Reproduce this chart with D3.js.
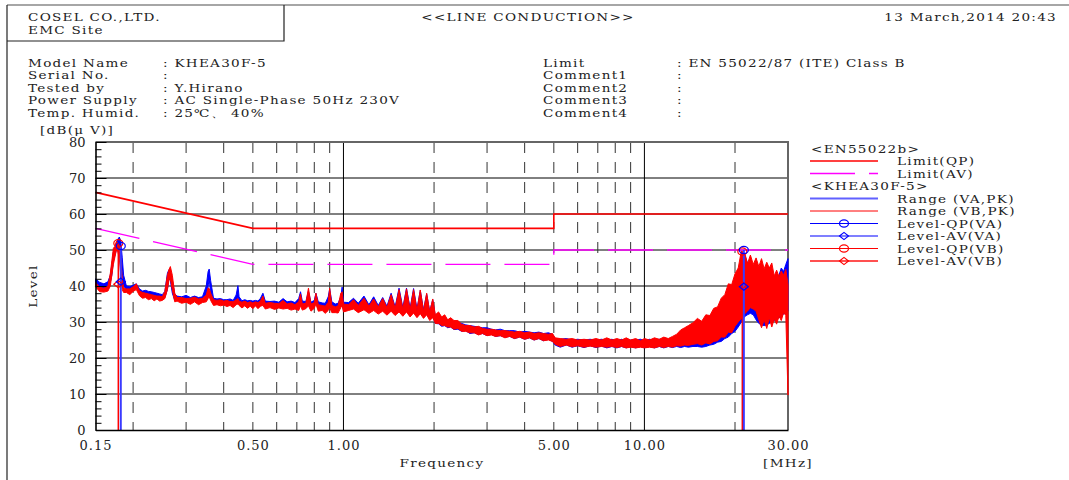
<!DOCTYPE html>
<html>
<head>
<meta charset="utf-8">
<script src="https://cdn.jsdelivr.net/npm/d3@7"></script>
<style>
  body { margin: 0; background: #fff; }
  svg text { font-family: "DejaVu Serif", serif; fill: #222; }
  .row { font-size: 10.6px; letter-spacing: 1px; }
  .tick text { font-size: 13px; letter-spacing: 1px; }
</style>
</head>
<body>
<div id="chart"></div>
<script>
// ---- header texts ----
const infoLeft = [
  ["Model Name", ": KHEA30F-5"],
  ["Serial No.", ":"],
  ["Tested by", ": Y.Hirano"],
  ["Power Supply", ": AC Single-Phase 50Hz 230V"],
  ["Temp. Humid.", ": 25\u2103\u3001 40%"]
];
const infoRight = [
  ["Limit", ": EN 55022/87 (ITE) Class B"],
  ["Comment1", ":"],
  ["Comment2", ":"],
  ["Comment3", ":"],
  ["Comment4", ":"]
];

// ---- axes ----
const xTicks = [0.15, 0.5, 1, 5, 10, 30];
const xGridDashed = [0.2, 0.3, 0.4, 0.5, 0.6, 0.7, 0.8, 0.9, 2, 3, 4, 5, 6, 7, 8, 9, 20];
const xGridSolid = [1, 10];
const yGrid = [10, 20, 30, 40, 50, 60, 70];

// ---- limits (EN55022 class B) ----
const limitQP = [[0.15, 66], [0.5, 56], [5, 56], [5, 60], [30, 60]];
const limitAV = [[0.15, 56], [0.5, 46], [5, 46], [5, 50], [30, 50]];

// ---- peak scan, min/max per frequency bin (MHz, dBuV) ----
const freqMHz = [
  0.150,0.155,0.160,0.165,0.168,0.170,0.172,0.174,0.176,0.178,
  0.180,0.182,0.184,0.186,0.190,0.195,0.200,0.205,0.210,0.215,
  0.220,0.225,0.230,0.235,0.240,0.245,0.250,0.255,0.260,0.263,
  0.266,0.270,0.275,0.280,0.290,0.300,0.310,0.320,0.330,0.340,
  0.350,0.355,0.358,0.362,0.370,0.380,0.390,0.400,0.410,0.420,
  0.430,0.440,0.446,0.450,0.460,0.470,0.480,0.490,0.500,0.510,
  0.520,0.530,0.540,0.550,0.570,0.590,0.610,0.630,0.650,0.670,
  0.690,0.710,0.720,0.730,0.750,0.765,0.780,0.800,0.810,0.825,
  0.850,0.870,0.890,0.900,0.915,0.940,0.960,0.980,0.990,1.000,
  1.040,1.080,1.120,1.170,1.215,1.260,1.305,1.350,1.395,1.440,
  1.485,1.530,1.575,1.620,1.665,1.710,1.755,1.800,1.845,1.890,
  1.935,1.980,2.020,2.070,2.120,2.170,2.220,2.270,2.330,2.400,
  2.470,2.550,2.630,2.720,2.810,2.900,3.000,3.100,3.200,3.320,
  3.440,3.570,3.700,3.850,4.000,4.150,4.300,4.460,4.620,4.800,
  4.950,5.050,5.250,5.500,5.750,6.000,6.300,6.600,6.900,7.200,
  7.500,7.800,8.100,8.400,8.700,9.000,9.350,9.700,10.00,10.40,
  10.80,11.20,11.60,12.00,12.40,12.80,13.20,13.60,14.00,14.50,
  15.00,15.50,16.00,16.50,17.00,17.50,18.00,18.50,19.00,19.50,
  20.00,20.50,21.00,21.30,21.60,22.00,22.50,23.00,23.50,24.00,
  24.50,25.00,25.50,26.00,26.50,27.00,27.50,28.00,28.50,29.00,
  29.50,30.00
];
const vaLo = [
  40.5,39.5,39.4,39.8,41.0,43.0,47.0,48.5,50.0,51.5,
  52.0,49.0,44.0,40.0,39.0,38.8,39.0,39.5,38.0,37.6,
  37.2,37.6,36.9,37.0,36.5,36.8,36.3,36.8,39.0,42.0,
  41.5,38.0,36.0,36.2,35.6,36.0,35.4,36.0,35.2,35.8,
  36.5,40.0,42.0,38.0,35.0,35.2,34.9,35.2,34.6,35.2,
  34.6,35.4,37.0,35.2,34.4,35.0,34.4,34.9,34.2,34.8,
  34.1,35.0,35.2,34.2,34.5,34.1,34.4,34.0,34.3,33.9,
  34.2,33.9,35.5,34.0,34.3,35.0,33.8,34.4,35.5,33.8,
  34.0,33.4,34.5,36.0,33.8,33.6,33.4,34.5,35.0,33.4,
  33.8,34.0,33.2,34.0,33.0,33.8,32.8,33.5,32.4,33.4,
  32.2,33.0,32.0,33.0,31.8,32.8,31.6,32.6,31.4,32.4,
  30.8,31.5,29.6,29.5,28.8,29.0,28.4,28.6,27.9,28.0,
  27.4,27.6,26.8,27.0,26.6,26.8,26.2,26.6,26.0,26.2,
  25.8,26.0,25.4,25.8,25.2,25.6,25.0,25.4,24.8,25.2,
  24.6,23.6,23.0,23.6,23.0,23.4,22.9,23.4,22.9,23.3,
  22.8,23.2,22.8,23.2,22.8,23.2,22.8,23.2,22.8,23.2,
  22.8,23.2,22.8,23.2,22.9,23.2,22.9,23.2,23.0,23.2,
  23.2,23.0,23.2,23.6,23.8,24.4,24.6,25.4,25.8,26.8,
  27.4,28.6,30.0,31.0,31.6,32.0,32.4,32.0,30.6,29.6,
  29.2,29.0,29.2,29.6,30.0,30.4,30.8,31.2,31.6,32.2,
  32.6,33.0
];
const vaHi = [
  42.0,41.0,40.6,41.2,43.0,46.0,49.5,50.5,52.0,53.0,
  53.6,52.5,48.0,43.0,40.0,39.8,40.2,40.6,39.2,38.6,
  38.8,38.5,38.4,38.2,38.0,37.8,37.6,38.5,43.5,44.5,
  44.0,41.5,37.8,37.2,37.0,37.4,36.8,37.2,36.8,37.0,
  40.0,44.0,44.7,41.5,36.6,36.4,36.5,36.2,36.2,36.4,
  36.0,37.5,40.1,37.0,35.9,36.2,35.9,36.0,35.8,36.0,
  35.8,36.6,38.0,35.8,35.7,35.8,35.5,36.5,35.6,35.8,
  35.4,36.5,38.4,35.8,35.7,38.5,35.5,36.0,38.0,35.6,
  35.3,35.2,37.0,39.2,35.6,35.0,35.2,37.0,39.7,35.5,
  35.4,36.6,35.2,37.2,34.8,37.0,34.6,36.8,34.4,38.0,
  34.2,39.4,34.0,39.4,33.8,39.3,33.6,38.8,33.4,37.8,
  33.0,36.2,31.6,32.5,31.0,31.6,30.4,30.8,30.0,29.8,
  29.6,29.2,29.0,28.8,28.6,28.4,28.4,28.0,27.8,28.0,
  27.6,27.6,27.6,27.2,27.4,27.2,27.0,27.2,26.8,27.0,
  26.6,25.4,25.2,25.4,25.0,25.2,25.0,25.2,25.0,25.2,
  25.0,25.2,24.8,25.2,24.8,25.0,25.0,25.2,24.8,25.2,
  25.0,25.2,25.0,25.0,25.2,25.4,25.6,25.8,26.0,26.2,
  26.6,27.0,27.4,28.0,28.4,29.0,30.0,31.0,32.0,33.0,
  34.0,36.0,48.0,49.6,48.4,46.4,46.0,44.8,44.0,44.6,
  45.2,43.6,44.0,42.8,43.2,41.8,42.4,43.0,45.0,44.0,
  46.0,47.6
];
const vbLo = [
  39.8,38.4,38.3,38.6,40.0,43.0,46.0,48.0,50.0,49.5,
  47.5,43.0,39.0,38.2,38.2,37.6,38.5,39.0,37.3,36.6,
  36.8,36.2,36.5,35.9,36.4,35.8,36.0,36.5,39.0,41.5,
  42.0,39.0,35.6,35.8,35.2,35.5,34.9,35.6,34.8,35.4,
  35.6,36.5,37.0,36.0,34.6,34.8,34.5,34.7,34.3,34.6,
  34.0,34.8,35.0,34.6,33.9,34.5,33.8,34.4,33.7,34.5,
  33.7,34.4,34.6,33.6,34.0,33.5,33.9,33.6,33.8,33.3,
  33.6,33.2,34.5,33.3,33.7,34.5,33.0,33.8,35.0,33.0,
  33.2,32.4,33.2,34.0,32.6,32.6,32.5,34.0,34.5,32.8,
  33.2,33.6,32.6,33.4,32.4,33.2,32.2,33.0,31.9,33.0,
  31.8,32.8,31.6,32.8,31.4,32.5,31.2,32.3,31.0,32.0,
  30.4,31.2,29.6,29.6,29.0,29.0,28.6,28.6,28.0,28.2,
  27.4,27.4,27.0,27.0,26.4,26.8,26.2,26.4,26.0,26.2,
  25.6,26.0,25.4,25.8,25.2,25.6,25.0,25.4,24.8,25.0,
  24.6,23.8,23.2,23.6,23.1,23.4,23.0,23.3,23.0,23.2,
  23.0,23.2,22.9,23.2,22.8,23.0,22.8,23.0,22.8,23.0,
  22.8,23.2,22.9,23.2,23.0,23.4,23.3,23.6,23.5,23.8,
  24.0,23.6,24.2,23.9,24.6,24.8,25.8,25.8,27.2,27.0,
  28.8,30.0,31.0,31.8,32.4,33.0,34.0,33.6,33.0,30.6,
  28.4,30.6,28.2,31.2,28.6,30.8,29.4,31.6,30.4,32.6,
  31.8,9.7
];
const vbHi = [
  41.0,39.6,39.4,40.0,43.5,47.0,50.5,51.0,52.4,52.0,
  51.0,47.5,42.0,39.5,39.2,39.2,39.8,40.6,38.6,38.2,
  38.0,37.8,37.6,37.4,37.2,37.2,37.0,38.5,43.0,44.5,
  45.4,43.0,38.0,36.8,36.8,36.5,36.6,36.9,36.4,36.6,
  37.5,39.5,39.3,38.0,36.2,36.0,36.2,35.8,36.0,35.7,
  35.6,36.2,36.5,35.8,35.5,35.8,35.4,35.6,35.3,35.6,
  35.4,35.8,37.2,35.2,35.4,35.2,35.1,36.0,35.0,35.3,
  34.8,35.6,37.8,35.0,35.2,39.4,35.0,35.4,38.0,34.8,
  34.6,34.4,35.5,39.4,34.6,34.2,34.5,38.0,38.4,35.0,
  34.8,36.2,34.6,36.6,34.4,36.4,34.2,36.5,34.0,37.6,
  33.8,39.0,33.6,39.2,33.4,39.0,33.2,38.9,33.0,38.0,
  32.8,36.4,32.0,32.8,31.4,32.0,30.6,31.2,30.4,30.4,
  29.4,29.0,29.0,28.6,28.8,28.2,28.0,28.0,27.8,27.6,
  27.6,27.4,27.2,27.4,27.0,27.2,26.8,27.0,26.8,26.6,
  26.8,25.6,25.4,25.2,25.4,25.0,25.2,25.0,25.4,25.0,
  25.6,25.0,25.4,25.0,25.6,25.0,25.4,24.8,25.4,25.0,
  25.6,25.2,25.8,25.4,26.0,26.6,27.8,28.4,29.0,29.8,
  31.0,30.2,32.0,31.8,33.8,34.2,36.6,37.6,40.6,40.4,
  43.4,45.0,49.8,49.2,48.8,46.2,48.6,46.0,47.8,45.4,
  47.6,44.8,46.6,45.0,46.4,42.8,44.4,42.6,44.2,43.0,
  44.6,40.4
];

// ---- final measurement markers ----
const markVAFreq = [0.182, 21.4];
const markVAQP = [51.1, 50.0];
const markVAAV = [41.2, 39.8];
const markVBFreq = [0.1786, 21.15];
const markVBQP = [51.9, 49.6];
const markVBAV = [40.5, 40.2];

const BLUE = "#0000ff", RED = "#ff0000", MAG = "#ff00ff";

const svg = d3.select("#chart").append("svg")
  .attr("width", 1069).attr("height", 480);

const x = d3.scaleLog().domain([0.15, 30]).range([95.5, 788]);
const y = d3.scaleLinear().domain([0, 80]).range([430, 142]);

// wide serif text like the plotter font
function label(tx, ty, str, anchor) {
  return svg.append("text").attr("class", "row")
    .attr("transform", `translate(${tx},${ty}) scale(1.28,1)`)
    .attr("text-anchor", anchor || "start")
    .text(str);
}

// page frame and header box
svg.append("line").attr("x1", 7).attr("x2", 1069).attr("y1", 5).attr("y2", 5)
  .attr("stroke", "#888").attr("stroke-width", 1.5);
svg.append("line").attr("x1", 7).attr("x2", 7).attr("y1", 5).attr("y2", 480)
  .attr("stroke", "#222").attr("stroke-width", 1.2);
svg.append("path").attr("d", "M7,41H284V5").attr("fill", "none")
  .attr("stroke", "#222").attr("stroke-width", 1.2);

label(28, 21, "COSEL CO.,LTD.");
label(28, 34, "EMC Site");
label(528, 21, "<<LINE CONDUCTION>>", "middle");
label(1057, 21, "13 March,2014 20:43", "end");

infoLeft.forEach((d, i) => {
  label(28, 67 + i * 12.4, d[0]);
  label(163, 67 + i * 12.4, d[1]);
});
infoRight.forEach((d, i) => {
  label(543, 67 + i * 12.4, d[0]);
  label(677, 67 + i * 12.4, d[1]);
});

// grid
const grid = svg.append("g");
grid.selectAll(".hg").data(yGrid).enter().append("line")
  .attr("x1", x(0.15)).attr("x2", x(30))
  .attr("y1", d => y(d)).attr("y2", d => y(d))
  .attr("stroke", "#000").attr("stroke-width", 1);
grid.selectAll(".vd").data(xGridDashed).enter().append("line")
  .attr("x1", d => x(d)).attr("x2", d => x(d))
  .attr("y1", y(80)).attr("y2", y(0))
  .attr("stroke", "#333").attr("stroke-width", 1).attr("stroke-dasharray", "11,9");
grid.selectAll(".vs").data(xGridSolid).enter().append("line")
  .attr("x1", d => x(d)).attr("x2", d => x(d))
  .attr("y1", y(80)).attr("y2", y(0))
  .attr("stroke", "#000").attr("stroke-width", 1);
// top and right frame of plot
grid.append("path")
  .attr("d", `M${x(0.15)},${y(80)}H${x(30)}V${y(0)}`)
  .attr("fill", "none").attr("stroke", "#666").attr("stroke-width", 2);

// spectrum traces (min/max band per bin)
const bins = freqMHz.map((f, i) => ({ f, vaLo: vaLo[i], vaHi: vaHi[i], vbLo: vbLo[i], vbHi: vbHi[i] }));
const band = (lo, hi) => d3.area().x(d => x(d.f)).y0(d => y(d[lo])).y1(d => y(d[hi]));

svg.append("path").datum(bins).attr("d", band("vaLo", "vaHi"))
  .attr("fill", BLUE).attr("stroke", BLUE).attr("stroke-width", 1);
svg.append("path").datum(bins).attr("d", band("vbLo", "vbHi"))
  .attr("fill", RED).attr("stroke", RED).attr("stroke-width", 1);

// limit lines
const lim = d3.line().x(d => x(d[0])).y(d => y(d[1]));
svg.append("path").datum(limitQP).attr("d", lim)
  .attr("fill", "none").attr("stroke", RED).attr("stroke-width", 1.6);
svg.append("path").datum(limitAV).attr("d", lim)
  .attr("fill", "none").attr("stroke", MAG).attr("stroke-width", 1.3)
  .attr("stroke-dasharray", "45,14");

// marker stems and symbols
function ellipse(g, cx, cy, color) {
  g.append("ellipse").attr("cx", cx).attr("cy", cy).attr("rx", 4.5).attr("ry", 3.6)
    .attr("fill", "none").attr("stroke", color).attr("stroke-width", 1.2);
}
function diamond(g, cx, cy, color) {
  g.append("path").attr("d", `M${cx - 4.5},${cy}L${cx},${cy - 3.6}L${cx + 4.5},${cy}L${cx},${cy + 3.6}Z`)
    .attr("fill", "none").attr("stroke", color).attr("stroke-width", 1.2);
}
const mk = svg.append("g");
markVBFreq.forEach((f, i) => {
  mk.append("line").attr("x1", x(f)).attr("x2", x(f)).attr("y1", y(0)).attr("y2", y(markVBQP[i]))
    .attr("stroke", RED).attr("stroke-width", 1.5);
});
markVAFreq.forEach((f, i) => {
  mk.append("line").attr("x1", x(f)).attr("x2", x(f)).attr("y1", y(0)).attr("y2", y(markVAQP[i]))
    .attr("stroke", "#3a3aff").attr("stroke-width", 2);
});
markVBFreq.forEach((f, i) => {
  ellipse(mk, x(f), y(markVBQP[i]), RED);
  diamond(mk, x(f), y(markVBAV[i]), RED);
});
markVAFreq.forEach((f, i) => {
  ellipse(mk, x(f), y(markVAQP[i]), BLUE);
  diamond(mk, x(f), y(markVAAV[i]), BLUE);
});

// y axis (ticks inward, every 2 dB)
const yAxis = svg.append("g").attr("transform", `translate(${x(0.15)},0)`)
  .call(d3.axisLeft(y).tickValues(d3.range(0, 81, 2)).tickSize(-6).tickSizeOuter(0)
    .tickPadding(10).tickFormat(d => (d % 10 === 0 ? d : "")));
yAxis.attr("font-family", null).attr("font-size", null);
yAxis.select(".domain").attr("stroke", "#000").attr("stroke-width", 1.6);
yAxis.selectAll(".tick line").attr("stroke", "#000")
  .attr("x2", d => (d % 10 === 0 ? 11 : 6));
yAxis.selectAll(".tick text").attr("fill", "#222").style("letter-spacing", "0px");

// x axis
const xAxis = svg.append("g").attr("transform", `translate(0,${y(0)})`)
  .call(d3.axisBottom(x).tickValues(xTicks).tickSize(0).tickSizeOuter(0)
    .tickPadding(11).tickFormat(d3.format(".2f")));
xAxis.attr("font-family", null).attr("font-size", null);
xAxis.select(".domain").attr("stroke", "#000").attr("stroke-width", 1.6);
xAxis.selectAll(".tick text").attr("fill", "#222");

// axis titles
label(40, 134, "[dB(\u03bc V)]");
svg.append("text").attr("class", "row")
  .attr("transform", "translate(37,286) rotate(-90) scale(1.28,1)")
  .attr("text-anchor", "middle").text("Level");
label(442, 467, "Frequency", "middle");
label(788, 467, "[MHz]", "middle");

// legend
const legendRows = [
  { label: "<EN55022b>", head: true },
  { label: "Limit(QP)", color: RED, width: 1.6 },
  { label: "Limit(AV)", color: MAG, width: 1.3, dash: "45,14" },
  { label: "<KHEA30F-5>", head: true },
  { label: "Range (VA,PK)", color: "#6060ff", width: 2 },
  { label: "Range (VB,PK)", color: RED, width: 1 },
  { label: "Level-QP(VA)", color: BLUE, width: 1.2, mark: "circle" },
  { label: "Level-AV(VA)", color: BLUE, width: 1.2, mark: "diamond" },
  { label: "Level-QP(VB)", color: RED, width: 1.2, mark: "circle" },
  { label: "Level-AV(VB)", color: "#ff5050", width: 2, mark: "diamond" }
];
legendRows.forEach((r, i) => {
  const ly = 148.5 + i * 12.5;
  if (r.head) {
    label(811, ly + 4, r.label);
    return;
  }
  svg.append("line").attr("x1", 810).attr("x2", 878).attr("y1", ly).attr("y2", ly)
    .attr("stroke", r.color).attr("stroke-width", r.width)
    .attr("stroke-dasharray", r.dash || null);
  const mc = r.color === "#ff5050" ? RED : r.color;
  if (r.mark === "circle") ellipse(svg, 844, ly, mc);
  if (r.mark === "diamond") diamond(svg, 844, ly, mc);
  label(897, ly + 4, r.label);
});
</script>
</body>
</html>
